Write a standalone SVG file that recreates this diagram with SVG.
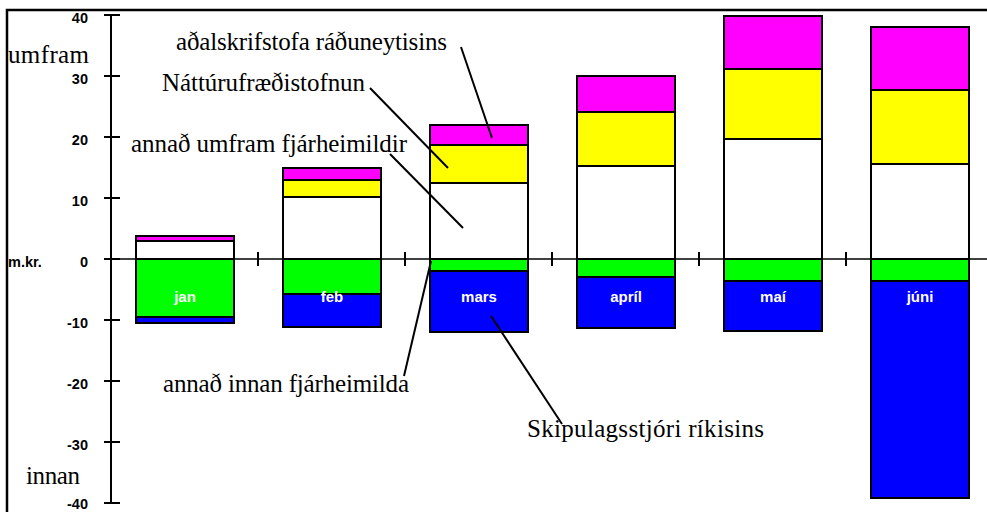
<svg xmlns="http://www.w3.org/2000/svg" width="987" height="512" viewBox="0 0 987 512">
<style>
.ax{stroke:#000;stroke-width:2;fill:none}
.seg{stroke:#000;stroke-width:2}
.pk{fill:#FF00FF}.yl{fill:#FFFF00}.wh{fill:#FFFFFF}.gr{fill:#00FF00}.bl{fill:#0000FF}
.yt{font-family:"Liberation Sans",Arial,sans-serif;font-weight:bold;font-size:14.5px;fill:#000;text-anchor:end}
.mt{font-family:"Liberation Sans",Arial,sans-serif;font-weight:bold;font-size:15px;fill:#fff;text-anchor:middle}
.an{font-family:"Liberation Serif","Times New Roman",serif;font-size:25px;fill:#000}
.ld{stroke:#000;stroke-width:2;fill:none}
</style>
<rect width="987" height="512" fill="#fff"/>
<path d="M7,512 V10 H987" stroke="#000" stroke-width="2.5" fill="none"/>
<g id="axes">
<path class="ax" d="M111,15 V503"/>
<path class="ax" d="M104,15 H120 M104,76 H120 M104,137 H120 M104,198 H120 M104,259 H120 M104,320 H120 M104,381 H120 M104,442 H120 M104,503 H120"/>
<path d="M111,259 H987" stroke="#000" stroke-width="1.5"/>
<path class="ax" d="M258,252 V266 M405,252 V266 M552,252 V266 M699,252 V266 M846,252 V266"/>
<text class="yt" x="88" y="23">40</text>
<text class="yt" x="88" y="84">30</text>
<text class="yt" x="88" y="145">20</text>
<text class="yt" x="88" y="206">10</text>
<text class="yt" x="88" y="267">0</text>
<text class="yt" x="88" y="328">-10</text>
<text class="yt" x="88" y="389">-20</text>
<text class="yt" x="88" y="450">-30</text>
<text class="yt" x="88" y="509">-40</text>
<text class="yt" x="8" y="267" style="text-anchor:start">m.kr.</text>
</g>
<g id="bar-jan">
<rect class="seg pk" x="136" y="236" width="98" height="5"/>
<rect class="seg wh" x="136" y="241" width="98" height="18"/>
<rect class="seg gr" x="136" y="259" width="98" height="58"/>
<rect class="seg bl" x="136" y="317" width="98" height="6"/>
<text class="mt" x="185" y="302">jan</text>
</g>
<g id="bar-feb">
<rect class="seg pk" x="283" y="168" width="98" height="12"/>
<rect class="seg yl" x="283" y="180" width="98" height="17"/>
<rect class="seg wh" x="283" y="197" width="98" height="62"/>
<rect class="seg gr" x="283" y="259" width="98" height="35"/>
<rect class="seg bl" x="283" y="294" width="98" height="33"/>
<text class="mt" x="332" y="302">feb</text>
</g>
<g id="bar-mars">
<rect class="seg pk" x="430" y="125" width="98" height="20"/>
<rect class="seg yl" x="430" y="145" width="98" height="38"/>
<rect class="seg wh" x="430" y="183" width="98" height="76"/>
<rect class="seg gr" x="430" y="259" width="98" height="12"/>
<rect class="seg bl" x="430" y="271" width="98" height="61"/>
<text class="mt" x="479" y="302">mars</text>
</g>
<g id="bar-april">
<rect class="seg pk" x="577" y="76" width="98" height="36"/>
<rect class="seg yl" x="577" y="112" width="98" height="54"/>
<rect class="seg wh" x="577" y="166" width="98" height="93"/>
<rect class="seg gr" x="577" y="259" width="98" height="18"/>
<rect class="seg bl" x="577" y="277" width="98" height="51"/>
<text class="mt" x="626" y="302">apríl</text>
</g>
<g id="bar-mai">
<rect class="seg pk" x="724" y="16" width="98" height="53"/>
<rect class="seg yl" x="724" y="69" width="98" height="70"/>
<rect class="seg wh" x="724" y="139" width="98" height="120"/>
<rect class="seg gr" x="724" y="259" width="98" height="22"/>
<rect class="seg bl" x="724" y="281" width="98" height="50"/>
<text class="mt" x="773" y="302">maí</text>
</g>
<g id="bar-juni">
<rect class="seg pk" x="871" y="27" width="98" height="63"/>
<rect class="seg yl" x="871" y="90" width="98" height="74"/>
<rect class="seg wh" x="871" y="164" width="98" height="95"/>
<rect class="seg gr" x="871" y="259" width="98" height="22"/>
<rect class="seg bl" x="871" y="281" width="98" height="217"/>
<text class="mt" x="920" y="302">júni</text>
</g>
<g id="label-umfram"><text class="an" x="8" y="63" textLength="81">umfram</text></g>
<g id="label-innan"><text class="an" x="26" y="484" textLength="54">innan</text></g>
<g id="label-adal"><text class="an" x="176" y="50" textLength="271">aðalskrifstofa ráðuneytisins</text></g>
<g id="label-natt"><text class="an" x="162" y="91" textLength="203">Náttúrufræðistofnun</text></g>
<g id="label-umfram-fj"><text class="an" x="131" y="152" textLength="276">annað umfram fjárheimildir</text></g>
<g id="label-innan-fj"><text class="an" x="163" y="392" textLength="246">annað innan fjárheimilda</text></g>
<g id="label-skip"><text class="an" x="527" y="437" textLength="237">Skipulagsstjóri ríkisins</text></g>
<g id="connectors">
<line class="ld" x1="461" y1="47" x2="492" y2="138"/>
<line class="ld" x1="370" y1="88" x2="448" y2="168"/>
<line class="ld" x1="390" y1="154" x2="463" y2="228"/>
<line class="ld" x1="404" y1="376" x2="431" y2="261"/>
<line class="ld" x1="491" y1="316" x2="562" y2="424"/>
</g>
</svg>
